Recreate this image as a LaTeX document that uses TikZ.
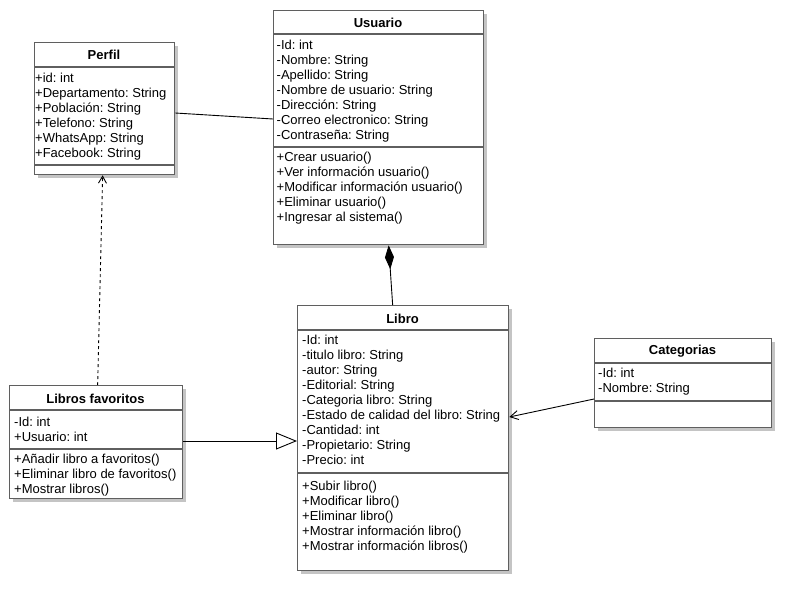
\documentclass[tikz,border=0pt]{standalone}
\usepackage{fontspec}
\setmainfont{Liberation Sans}
\usetikzlibrary{arrows.meta,positioning,calc,shadows}
\definecolor{borde}{HTML}{5F5F5F}
\definecolor{sombra}{HTML}{C4C4C4}
\frenchspacing
\tikzset{
  clase/.style={rectangle, draw=borde, line width=1.3pt, fill=white, anchor=north west, inner sep=0pt,
                drop shadow={fill=sombra, opacity=1, shadow xshift=3pt, shadow yshift=-3pt}},
  titulo/.style={font=\bfseries\fontsize{13}{15}\selectfont, inner sep=0pt},
  campos/.style={anchor=north west, align=left, inner sep=0pt, font=\fontsize{13}{15}\selectfont},
  div/.style={draw=borde, line width=1.3pt},
  rel/.style={line width=0.9pt, draw=black},
}

\begin{document}
\begin{tikzpicture}[x=1pt, y=-1pt]
\fill[white] (0,0) rectangle (811,611);
\useasboundingbox (0,0) rectangle (811,611);
% clases
\node[clase, minimum width=140pt, minimum height=132pt] (perfil) at (34,42) {};
\node[titulo] (perfilT) at (104,55) {Perfil};
\draw[div] (perfil.west |- 0,67) -- (perfil.east |- 0,67);
\draw[div] (perfil.west |- 0,165) -- (perfil.east |- 0,165);
\node[campos] (perfilA) at (35,72.7) {+id: int\\+Departamento: String\\+Población: String\\+Telefono: String\\+WhatsApp: String\\+Facebook: String};

\node[clase, minimum width=210pt, minimum height=234pt] (usr) at (273,10) {};
\node[titulo] (usrT) at (378,22.7) {Usuario};
\draw[div] (usr.west |- 0,34) -- (usr.east |- 0,34);
\draw[div] (usr.west |- 0,147) -- (usr.east |- 0,147);
\node[campos] (usrA) at (276.5,40) {-Id: int\\-Nombre: String\\-Apellido: String\\-Nombre de usuario: String\\-Dirección: String\\-Correo electronico: String\\-Contraseña: String};
\node[campos] (usrM) at (276.5,152) {+Crear usuario()\\+Ver información usuario()\\+Modificar información usuario()\\+Eliminar usuario()\\+Ingresar al sistema()};

\node[clase, minimum width=211pt, minimum height=265pt] (libro) at (297,305) {};
\node[titulo] (libroT) at (402.5,319.3) {Libro};
\draw[div] (libro.west |- 0,330) -- (libro.east |- 0,330);
\draw[div] (libro.west |- 0,473) -- (libro.east |- 0,473);
\node[campos] (libroA) at (302,335) {-Id: int\\-titulo libro: String\\-autor: String\\-Editorial: String\\-Categoria libro: String\\-Estado de calidad del libro: String\\-Cantidad: int\\-Propietario: String\\-Precio: int};
\node[campos] (libroM) at (302,480.7) {+Subir libro()\\+Modificar libro()\\+Eliminar libro()\\+Mostrar información libro()\\+Mostrar información libros()};

\node[clase, minimum width=173pt, minimum height=113pt] (fav) at (9,385) {};
\node[titulo] (favT) at (95.5,399.3) {Libros favoritos};
\draw[div] (fav.west |- 0,410) -- (fav.east |- 0,410);
\draw[div] (fav.west |- 0,449) -- (fav.east |- 0,449);
\node[campos] (favA) at (14,416.7) {-Id: int\\+Usuario: int};
\node[campos] (favM) at (14,454.3) {+Añadir libro a favoritos()\\+Eliminar libro de favoritos()\\+Mostrar libros()};

\node[clase, minimum width=177pt, minimum height=89pt] (cat) at (594,338) {};
\node[titulo] (catT) at (682.5,350.7) {Categorias};
\draw[div] (cat.west |- 0,363) -- (cat.east |- 0,363);
\draw[div] (cat.west |- 0,401) -- (cat.east |- 0,401);
\node[campos] (catA) at (598,368.3) {-Id: int\\-Nombre: String};

% relaciones
\draw[rel] (perfil.east |- 0,113) -- (usr.west |- 0,119);
\draw[rel, dash pattern=on 3pt off 3pt, -{Straight Barb[length=7pt, width=8pt]}] ($(fav.north)+(1.5,0)$) -- ($(perfil.south)+(-2,0)$);
\draw[rel, {Diamond[length=24pt, width=9pt]}-] ($(usr.south)+(10,0)$) -- ($(libro.north)+(-10.5,0)$);
\draw[rel, -{Triangle[open, length=21pt, width=17pt, fill=white]}] (fav.east |- 0,441) -- (libro.west |- 0,441);
\draw[rel, -{Straight Barb[length=8pt, width=9pt]}] (cat.west |- 0,399) -- (libro.east |- 0,417);
\end{tikzpicture}
\end{document}
